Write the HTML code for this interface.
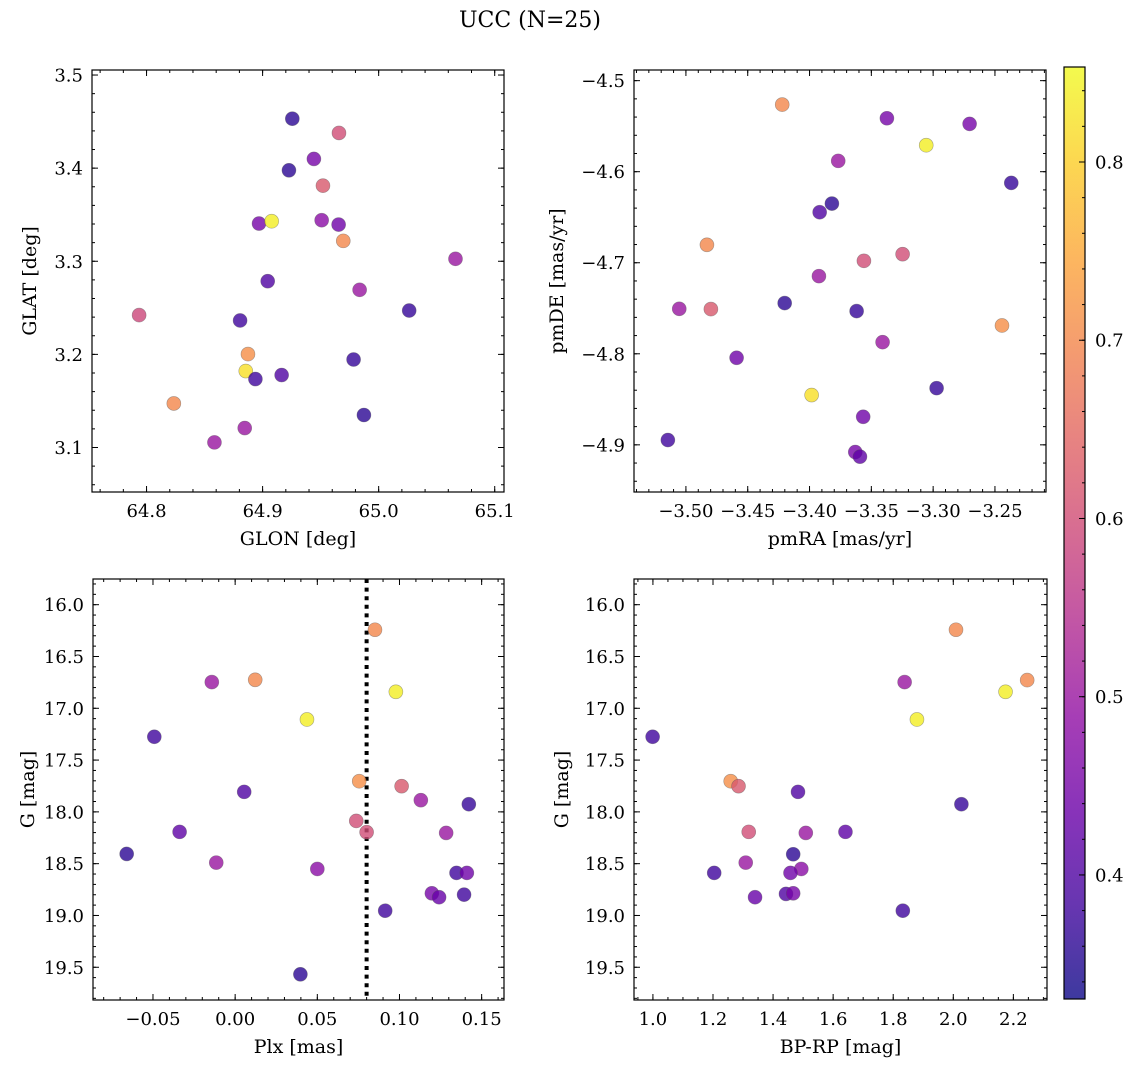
<!DOCTYPE html>
<html><head><meta charset="utf-8">
<style>
html,body{margin:0;padding:0;background:#fff;}
svg{display:block;font-family:"DejaVu Serif","Liberation Serif",serif;}
</style></head>
<body>
<svg id="fig" width="1136" height="1067" viewBox="0 0 1136 1067" xmlns="http://www.w3.org/2000/svg">
<text x="530" y="27" font-size="22" text-anchor="middle">UCC (N=25)</text>
</svg>
<script>
// ---- data ----
const glon = [64.9256,64.9658,64.9442,64.9227,64.952,64.8969,64.9078,64.9509,64.9655,64.9695,65.0662,64.9044,64.9836,65.0263,64.7936,64.8806,64.8874,64.9784,64.8855,64.8938,64.9164,64.8235,64.9873,64.8846,64.8585];
const glat = [3.4531,3.4378,3.4099,3.3977,3.3812,3.3405,3.343,3.3441,3.3394,3.3219,3.3026,3.2786,3.2693,3.2471,3.2422,3.2364,3.2003,3.1945,3.1821,3.1735,3.1778,3.1473,3.1349,3.1209,3.1055];
const probPos = [0.36,0.60,0.45,0.36,0.62,0.45,0.84,0.48,0.44,0.70,0.50,0.40,0.50,0.37,0.59,0.38,0.71,0.37,0.82,0.38,0.40,0.70,0.36,0.50,0.50];

const pmra = [-3.4221,-3.3374,-3.2705,-3.3056,-3.3768,-3.2368,-3.3819,-3.3918,-3.483,-3.3247,-3.356,-3.3924,-3.4201,-3.5054,-3.4798,-3.3619,-3.2443,-3.3409,-3.459,-3.2972,-3.3983,-3.3566,-3.5146,-3.363,-3.3592];
const pmde = [-4.5263,-4.5413,-4.5475,-4.5709,-4.5881,-4.6123,-4.635,-4.6445,-4.6803,-4.6906,-4.6979,-4.7147,-4.7443,-4.7506,-4.7509,-4.7531,-4.7689,-4.7872,-4.8044,-4.8377,-4.8453,-4.8692,-4.8947,-4.9079,-4.913];
const probPm = [0.70,0.45,0.45,0.84,0.50,0.37,0.36,0.40,0.70,0.60,0.60,0.50,0.36,0.50,0.62,0.37,0.71,0.50,0.44,0.37,0.82,0.44,0.38,0.45,0.42];

const plx = [0.0851,-0.0142,0.0122,0.0978,0.0437,-0.0492,0.0755,0.1013,0.0055,0.113,0.1422,0.0737,0.080,-0.0338,0.1284,-0.066,-0.0115,0.05,0.1347,0.141,0.1197,0.1241,0.1393,0.0913,0.0397];
const gPlx = [16.242,16.747,16.725,16.841,17.108,17.275,17.704,17.752,17.807,17.887,17.926,18.087,18.196,18.193,18.203,18.406,18.49,18.551,18.589,18.589,18.786,18.824,18.799,18.954,19.568];
const probPlx = [0.70,0.50,0.70,0.84,0.84,0.38,0.71,0.62,0.40,0.50,0.37,0.60,0.60,0.42,0.50,0.36,0.50,0.48,0.38,0.44,0.45,0.43,0.38,0.38,0.36];

const bprp = [2.009,2.246,1.838,2.174,1.879,0.999,1.259,1.285,1.483,2.027,1.319,1.509,1.641,1.467,1.309,1.494,1.204,1.458,1.443,1.467,1.34,1.832];
const gCmd = [16.242,16.728,16.747,16.841,17.108,17.275,17.704,17.752,17.807,17.926,18.193,18.203,18.193,18.409,18.49,18.551,18.589,18.589,18.792,18.786,18.824,18.954];
const probCmd = [0.70,0.70,0.50,0.84,0.84,0.38,0.71,0.62,0.40,0.37,0.60,0.50,0.42,0.36,0.50,0.48,0.38,0.44,0.40,0.45,0.43,0.38];

const plxLine = 0.080;

const glonTicks = ["64.8","64.9","65.0","65.1"];
const glatTicks = ["3.1","3.2","3.3","3.4","3.5"];
const pmraTicks = ["−3.50","−3.45","−3.40","−3.35","−3.30","−3.25"];
const pmdeTicks = ["−4.9","−4.8","−4.7","−4.6","−4.5"];
const plxTicks = ["−0.05","0.00","0.05","0.10","0.15"];
const gTicks = ["16.0","16.5","17.0","17.5","18.0","18.5","19.0","19.5"];
const bprpTicks = ["1.0","1.2","1.4","1.6","1.8","2.0","2.2"];
const cbarTicks = ["0.4","0.5","0.6","0.7","0.8"];

const VMIN = 0.3304, VMAX = 0.8533;

// ---- helpers ----
const NS = "http://www.w3.org/2000/svg";
const fig = document.getElementById("fig");
function mk(tag, attrs, parent) {
  const e = document.createElementNS(NS, tag);
  for (const k in attrs) e.setAttribute(k, attrs[k]);
  (parent || fig).appendChild(e);
  return e;
}
const plasmaStops = ["#0d0887","#41049d","#6a00a8","#8f0da4","#b12a90","#cc4778","#e16462","#f2844b","#fca636","#fcce25","#f0f921"];
function hex2rgb(h){return [parseInt(h.slice(1,3),16),parseInt(h.slice(3,5),16),parseInt(h.slice(5,7),16)];}
function plasma(t){
  t=Math.max(0,Math.min(1,t));
  const f=t*10, i=Math.min(9,Math.floor(f)), r=f-i;
  const a=hex2rgb(plasmaStops[i]), b=hex2rgb(plasmaStops[i+1]);
  return "rgb("+a.map((v,k)=>Math.round(v+(b[k]-v)*r)).join(",")+")";
}
function cmap(v){return plasma((v-VMIN)/(VMAX-VMIN));}
function num(s){return parseFloat(s.replace("−","-"));}

function panel(cfg){
  const g = mk("g", {});
  
  
  const {x0,x1,y0,y1,xmin,xmax,ymin,ymax,invertY} = cfg;
  const sx = v => x0 + (v - xmin) / (xmax - xmin) * (x1 - x0);
  const sy = v => invertY ? y0 + (v - ymin) / (ymax - ymin) * (y1 - y0)
                          : y1 - (v - ymin) / (ymax - ymin) * (y1 - y0);
  const tg = mk("g", {stroke:"#000","stroke-width":"1"}, g);
  
  
  const eps=1e-9;
  for (let v = Math.ceil(xmin/cfg.xminor)*cfg.xminor; v <= xmax+eps; v += cfg.xminor){
    const X=sx(v);
    mk("line",{x1:X,x2:X,y1:y1,y2:y1-3},tg); mk("line",{x1:X,x2:X,y1:y0,y2:y0+3},tg);
  }
  for (let v = Math.ceil(ymin/cfg.yminor)*cfg.yminor; v <= ymax+eps; v += cfg.yminor){
    const Y=sy(v);
    mk("line",{x1:x0,x2:x0+3,y1:Y,y2:Y},tg); mk("line",{x1:x1,x2:x1-3,y1:Y,y2:Y},tg);
  }
  cfg.xticks.forEach(s=>{
    const X=sx(num(s));
    mk("line",{x1:X,x2:X,y1:y1,y2:y1-6},tg); mk("line",{x1:X,x2:X,y1:y0,y2:y0+6},tg);
    const t=mk("text",{x:X,y:y1+25,"font-size":"18","text-anchor":"middle",fill:"#000",stroke:"none"},g);
    t.textContent=s;
    
    
  });
  cfg.yticks.forEach(s=>{
    const Y=sy(num(s));
    mk("line",{x1:x0,x2:x0+6,y1:Y,y2:Y},tg); mk("line",{x1:x1,x2:x1-6,y1:Y,y2:Y},tg);
    const t=mk("text",{x:x0-9,y:Y+6.5,"font-size":"18","text-anchor":"end",fill:"#000",stroke:"none"},g);
    t.textContent=s;
    
    
  });
  if (cfg.vline !== undefined){
    const X=sx(cfg.vline);
    const l=mk("line",{x1:X,x2:X,y1:y0,y2:y1,stroke:"#000","stroke-width":"4","stroke-dasharray":"4,4.6"},g);
    
    
  }
  const pg = mk("g", {}, g);
  
  
  cfg.xs.forEach((xv,i)=>{
    const c=mk("circle",{cx:sx(xv),cy:sy(cfg.ys[i]),r:"7",fill:cmap(cfg.cs[i]),"fill-opacity":"0.8",stroke:"#555","stroke-opacity":"0.5","stroke-width":"0.6"},pg);
    
    
  });
  const fr=mk("rect",{x:x0,y:y0,width:x1-x0,height:y1-y0,fill:"none",stroke:"#000","stroke-width":"1.2"},g);
  
  
  const xl=mk("text",{x:(x0+x1)/2,y:y1+53,"font-size":"19","text-anchor":"middle"},g);
  xl.textContent=cfg.xlabel;
  
  
  const yx=cfg.ylabelX, yy=(y0+y1)/2;
  const yl=mk("text",{x:yx,y:yy,"font-size":"19","text-anchor":"middle",transform:"rotate(-90 "+yx+" "+yy+")"},g);
  yl.textContent=cfg.ylabel;
  
  
}

panel({name:"position-panel",x0:92,x1:504,y0:70,y1:492,xmin:64.753,xmax:65.108,ymin:3.0522,ymax:3.5054,
  xminor:0.02,yminor:0.02,xticks:glonTicks,yticks:glatTicks,xs:glon,ys:glat,cs:probPos,
  xlabel:"GLON [deg]",ylabel:"GLAT [deg]",ylabelX:36});
panel({name:"proper-motion-panel",x0:634,x1:1046,y0:70,y1:492,xmin:-3.542,xmax:-3.2087,ymin:-4.9518,ymax:-4.4883,
  xminor:0.01,yminor:0.02,xticks:pmraTicks,yticks:pmdeTicks,xs:pmra,ys:pmde,cs:probPm,
  xlabel:"pmRA [mas/yr]",ylabel:"pmDE [mas/yr]",ylabelX:563});
panel({name:"parallax-panel",x0:93,x1:504,y0:579,y1:1000,xmin:-0.0865,xmax:0.1636,ymin:15.752,ymax:19.816,invertY:true,
  xminor:0.01,yminor:0.1,xticks:plxTicks,yticks:gTicks,xs:plx,ys:gPlx,cs:probPlx,vline:plxLine,
  xlabel:"Plx [mas]",ylabel:"G [mag]",ylabelX:34});
panel({name:"cmd-panel",x0:634,x1:1047,y0:579,y1:1000,xmin:0.937,xmax:2.312,ymin:15.752,ymax:19.816,invertY:true,
  xminor:0.05,yminor:0.1,xticks:bprpTicks,yticks:gTicks,xs:bprp,ys:gCmd,cs:probCmd,
  xlabel:"BP-RP [mag]",ylabel:"G [mag]",ylabelX:568});

(function(){
  const cx0=1064,cx1=1085,cy0=67,cy1=999;
  const g=mk("g",{});
  
  
  const defs=mk("defs",{},g);
  const lg=mk("linearGradient",{id:"cb",x1:"0",y1:"1",x2:"0",y2:"0"},defs);
  for(let i=0;i<=20;i++){
    const t=i/20;
    mk("stop",{offset:t,"stop-color":plasma(t),"stop-opacity":"0.8"},lg);
  }
  const r=mk("rect",{x:cx0,y:cy0,width:cx1-cx0,height:cy1-cy0,fill:"url(#cb)",stroke:"#000","stroke-width":"1.2"},g);
  
  
  const sy=v=>cy1-(v-VMIN)/(VMAX-VMIN)*(cy1-cy0);
  for(let v=0.34;v<VMAX;v+=0.02){
    const Y=sy(v);
    mk("line",{x1:cx1,x2:cx1-3,y1:Y,y2:Y,stroke:"#000","stroke-width":"1"},g);
  }
  cbarTicks.forEach(s=>{
    const Y=sy(num(s));
    mk("line",{x1:cx1,x2:cx1-6,y1:Y,y2:Y,stroke:"#000","stroke-width":"1"},g);
    const t=mk("text",{x:cx1+10,y:Y+6.5,"font-size":"18"},g);
    t.textContent=s;
    
    
  });
})();
</script>
</body></html>
